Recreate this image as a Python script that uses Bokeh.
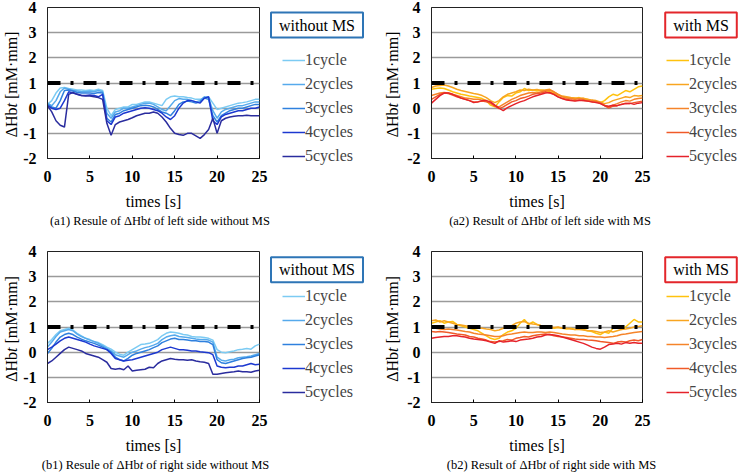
import math
from bokeh.plotting import figure
from bokeh.models import Range1d, FixedTicker, Label, Legend, LegendItem, Span
from bokeh.layouts import column, row
from bokeh.embed import file_html
from bokeh.resources import INLINE

# ---------------- data ----------------
TIME = [i * 0.5 for i in range(51)]  # seconds, 0 .. 25
CYCLES = ["1cycle", "2cycles", "3cycles", "4cycles", "5cycles"]
THRESHOLD = 1.0

BLUES = ["#7ccbf3", "#56aaec", "#2f80de", "#1c38d0", "#2a2c9e"]
ORANGES = ["#ffc20e", "#f8a520", "#f5842a", "#f05a28", "#e5222a"]

# (a1) left side without MS
A1_1 = [0.15, 0.3, 0.6, 0.8, 0.82, 0.78, 0.75, 0.72, 0.72, 0.7, 0.72, 0.7, 0.75, 0.7, 0.0, -0.3, -0.05, 0.0, 0.05, 0.05,
        0.15, 0.15, 0.2, 0.25, 0.25, 0.2, 0.15, 0.1, 0.35, 0.45, 0.48, 0.45, 0.45, 0.42, 0.4, 0.35, 0.35, 0.42, 0.45, 0.2,
        -0.05, 0.0, 0.05, 0.1, 0.15, 0.2, 0.22, 0.25, 0.3, 0.35, 0.35]
A1_2 = [0.2, 0.1, 0.3, 0.65, 0.8, 0.75, 0.7, 0.68, 0.65, 0.65, 0.67, 0.65, 0.7, 0.65, -0.2, -0.4, -0.15, -0.1, 0.0, 0.0,
        0.05, 0.1, 0.15, 0.2, 0.2, 0.15, 0.05, -0.05, -0.1, 0.1, 0.3, 0.38, 0.35, 0.35, 0.3, 0.25, 0.3, 0.45, 0.4, -0.1,
        -0.4, -0.15, -0.05, 0.0, 0.05, 0.1, 0.1, 0.15, 0.2, 0.25, 0.25]
A1_3 = [0.15, 0.05, 0.0, 0.3, 0.7, 0.72, 0.68, 0.62, 0.6, 0.6, 0.6, 0.58, 0.62, 0.6, -0.4, -0.55, -0.25, -0.2, -0.1, -0.05,
        0.0, 0.05, 0.1, 0.12, 0.1, 0.05, -0.05, -0.15, -0.2, -0.3, -0.1, 0.15, 0.25, 0.28, 0.25, 0.2, 0.25, 0.4, 0.35, -0.3,
        -0.55, -0.3, -0.2, -0.1, -0.05, 0.0, 0.0, 0.05, 0.1, 0.15, 0.15]
A1_4 = [0.1, 0.0, -0.05, 0.0, 0.3, 0.65, 0.6, 0.55, 0.5, 0.5, 0.52, 0.5, 0.45, 0.55, -0.5, -0.65, -0.35, -0.3, -0.2, -0.15,
        -0.1, -0.05, 0.0, 0.02, 0.0, -0.05, -0.1, -0.2, -0.35, -0.45, -0.3, 0.0, 0.2, 0.3, 0.3, 0.25, 0.2, 0.4, 0.45, -0.5,
        -0.65, -0.35, -0.25, -0.2, -0.15, -0.1, -0.1, -0.05, 0.0, 0.0, 0.05]
A1_5 = [0.1, -0.15, -0.5, -0.68, -0.75, 0.55, 0.62, 0.55, 0.5, 0.48, 0.48, 0.45, 0.42, 0.35, -0.6, -1.08, -0.65, -0.55, -0.5, -0.45,
        -0.38, -0.3, -0.25, -0.2, -0.2, -0.15, -0.2, -0.35, -0.55, -0.8, -1.0, -1.05, -1.08, -1.0, -1.0, -1.1, -1.2, -1.05, -0.85, -0.4,
        -1.0, -0.5, -0.4, -0.35, -0.32, -0.3, -0.3, -0.28, -0.3, -0.3, -0.3]

# (a2) left side with MS
A2_1 = [0.75, 0.78, 0.8, 0.78, 0.72, 0.65, 0.6, 0.55, 0.52, 0.48, 0.45, 0.42, 0.38, 0.3, 0.12, 0.05, 0.25, 0.42, 0.5, 0.48,
        0.6, 0.65, 0.78, 0.7, 0.72, 0.68, 0.72, 0.7, 0.65, 0.6, 0.52, 0.45, 0.42, 0.4, 0.38, 0.42, 0.36, 0.35, 0.3, 0.28,
        0.22, 0.3, 0.45, 0.55, 0.5, 0.6, 0.7, 0.65, 0.75, 0.85, 0.88]
A2_2 = [0.82, 0.88, 0.9, 0.92, 0.88, 0.82, 0.75, 0.7, 0.66, 0.62, 0.58, 0.55, 0.5, 0.42, 0.3, 0.22, 0.3, 0.45, 0.55, 0.6,
        0.65, 0.72, 0.7, 0.75, 0.72, 0.74, 0.7, 0.72, 0.75, 0.65, 0.55, 0.48, 0.45, 0.42, 0.4, 0.38, 0.4, 0.35, 0.32, 0.3,
        0.25, 0.18, 0.22, 0.3, 0.35, 0.4, 0.45, 0.42, 0.5, 0.48, 0.5]
A2_3 = [0.5, 0.55, 0.6, 0.62, 0.6, 0.55, 0.5, 0.45, 0.4, 0.38, 0.35, 0.35, 0.32, 0.28, 0.2, 0.1, 0.05, 0.15, 0.25, 0.35,
        0.42, 0.5, 0.55, 0.6, 0.62, 0.6, 0.65, 0.7, 0.72, 0.65, 0.55, 0.45, 0.4, 0.38, 0.35, 0.38, 0.35, 0.3, 0.3, 0.28,
        0.22, 0.12, 0.05, 0.12, 0.18, 0.25, 0.3, 0.28, 0.35, 0.38, 0.4]
A2_4 = [0.35, 0.45, 0.55, 0.6, 0.58, 0.52, 0.45, 0.4, 0.35, 0.3, 0.25, 0.25, 0.28, 0.25, 0.2, 0.08, -0.02, 0.05, 0.15, 0.25,
        0.3, 0.38, 0.42, 0.48, 0.55, 0.58, 0.6, 0.65, 0.6, 0.55, 0.45, 0.38, 0.35, 0.32, 0.3, 0.32, 0.3, 0.28, 0.25, 0.25,
        0.2, 0.1, 0.0, 0.08, 0.1, 0.15, 0.2, 0.18, 0.22, 0.25, 0.28]
A2_5 = [0.2, 0.35, 0.5, 0.6, 0.6, 0.55, 0.48, 0.4, 0.35, 0.3, 0.22, 0.25, 0.3, 0.3, 0.25, 0.12, 0.0, -0.1, 0.02, 0.1,
        0.18, 0.25, 0.3, 0.38, 0.45, 0.5, 0.55, 0.6, 0.62, 0.55, 0.45, 0.38, 0.32, 0.3, 0.28, 0.3, 0.3, 0.28, 0.25, 0.22,
        0.18, 0.1, 0.08, 0.12, 0.1, 0.15, 0.18, 0.2, 0.15, 0.2, 0.22]

# (b1) right side without MS
B1_1 = [0.35, 0.5, 0.7, 0.85, 0.9, 0.95, 0.88, 0.75, 0.65, 0.55, 0.5, 0.42, 0.38, 0.3, 0.2, 0.12, 0.0, -0.08, -0.12, 0.0,
        0.1, 0.2, 0.3, 0.32, 0.35, 0.42, 0.5, 0.65, 0.75, 0.8, 0.78, 0.75, 0.7, 0.68, 0.62, 0.6, 0.6, 0.58, 0.55, 0.48,
        0.1, 0.0, -0.02, 0.02, 0.05, 0.1, 0.12, 0.15, 0.12, 0.25, 0.32]
B1_2 = [0.2, 0.4, 0.62, 0.8, 0.85, 0.9, 0.85, 0.72, 0.62, 0.55, 0.48, 0.42, 0.35, 0.25, 0.15, 0.05, -0.1, -0.15, -0.2, -0.1,
        0.0, 0.05, 0.12, 0.18, 0.22, 0.28, 0.35, 0.5, 0.6, 0.65, 0.68, 0.62, 0.6, 0.58, 0.55, 0.52, 0.5, 0.5, 0.48, 0.4,
        -0.2, -0.32, -0.35, -0.3, -0.28, -0.22, -0.2, -0.18, -0.15, -0.1, -0.05]
B1_3 = [-0.05, 0.15, 0.4, 0.6, 0.7, 0.75, 0.7, 0.6, 0.52, 0.45, 0.4, 0.35, 0.28, 0.2, 0.1, 0.0, -0.2, -0.3, -0.35, -0.25,
        -0.12, -0.05, 0.0, 0.05, 0.1, 0.18, 0.25, 0.38, 0.45, 0.52, 0.55, 0.5, 0.5, 0.48, 0.45, 0.45, 0.42, 0.42, 0.4, 0.3,
        -0.3, -0.42, -0.45, -0.4, -0.35, -0.3, -0.25, -0.22, -0.2, -0.15, -0.1]
B1_4 = [0.1, 0.2, 0.32, 0.45, 0.55, 0.6, 0.55, 0.5, 0.45, 0.4, 0.32, 0.25, 0.2, 0.15, 0.1, -0.05, -0.25, -0.3, -0.35, -0.32,
        -0.3, -0.25, -0.2, -0.15, -0.1, -0.05, 0.0, 0.1, 0.15, 0.2, 0.15, 0.1, 0.1, 0.08, 0.05, 0.05, 0.02, 0.0, -0.02, -0.1,
        -0.55, -0.6, -0.62, -0.6, -0.6, -0.55, -0.55, -0.5, -0.45, -0.5, -0.48]
B1_5 = [-0.45, -0.35, -0.2, -0.05, 0.1, 0.2, 0.15, 0.1, 0.05, -0.05, -0.1, -0.15, -0.2, -0.3, -0.4, -0.65, -0.68, -0.65, -0.7, -0.55,
        -0.75, -0.72, -0.7, -0.68, -0.6, -0.62, -0.45, -0.35, -0.3, -0.25, -0.28, -0.3, -0.3, -0.32, -0.3, -0.35, -0.38, -0.4, -0.45, -0.88,
        -0.88, -0.85, -0.82, -0.8, -0.78, -0.75, -0.78, -0.78, -0.8, -0.75, -0.72]

# (b2) right side with MS
B2_1 = [1.15, 1.2, 1.25, 1.15, 1.2, 1.22, 1.1, 1.05, 1.0, 0.95, 0.9, 0.85, 0.75, 0.65, 0.55, 0.5, 0.55, 0.7, 0.8, 0.85,
        0.95, 1.15, 1.3, 1.1, 1.2, 1.1, 1.05, 1.0, 1.02, 0.95, 0.98, 0.95, 0.92, 0.95, 0.9, 0.95, 0.9, 0.85, 0.82, 0.75,
        0.7, 0.8, 0.75, 0.95, 1.05, 0.9, 1.0, 1.15, 1.3, 1.2, 1.2]
B2_2 = [1.25, 1.28, 1.2, 1.25, 1.2, 1.15, 1.1, 1.08, 1.05, 1.02, 1.0, 0.98, 0.95, 0.92, 0.9, 0.85, 0.88, 0.95, 1.0, 1.05,
        1.15, 1.2, 1.22, 1.15, 1.12, 1.1, 1.05, 1.0, 1.0, 0.98, 1.0, 0.95, 0.95, 0.92, 0.9, 0.9, 0.88, 0.85, 0.85, 0.82,
        0.78, 0.8, 0.85, 0.8, 0.85, 0.9, 0.92, 0.95, 1.0, 1.02, 1.05]
B2_3 = [0.95, 0.95, 0.92, 0.9, 0.92, 0.9, 0.88, 0.85, 0.82, 0.8, 0.75, 0.72, 0.7, 0.68, 0.65, 0.62, 0.62, 0.65, 0.7, 0.72,
        0.75, 0.78, 0.8, 0.78, 0.78, 0.8, 0.8, 0.78, 0.8, 0.78, 0.75, 0.72, 0.7, 0.68, 0.68, 0.65, 0.65, 0.62, 0.62, 0.6,
        0.6, 0.58, 0.6, 0.62, 0.65, 0.7, 0.72, 0.75, 0.78, 0.8, 0.82]
B2_4 = [0.82, 0.8, 0.82, 0.8, 0.78, 0.75, 0.72, 0.7, 0.68, 0.62, 0.6, 0.55, 0.52, 0.48, 0.42, 0.4, 0.42, 0.45, 0.5, 0.48,
        0.55, 0.58, 0.62, 0.6, 0.65, 0.68, 0.7, 0.72, 0.7, 0.65, 0.62, 0.6, 0.58, 0.55, 0.52, 0.5, 0.5, 0.48, 0.47, 0.45,
        0.42, 0.4, 0.38, 0.35, 0.4, 0.42, 0.4, 0.45, 0.48, 0.45, 0.5]
B2_5 = [0.55, 0.58, 0.6, 0.62, 0.62, 0.65, 0.65, 0.62, 0.6, 0.55, 0.52, 0.5, 0.48, 0.45, 0.4, 0.35, 0.45, 0.4, 0.42, 0.45,
        0.42, 0.48, 0.5, 0.52, 0.55, 0.6, 0.62, 0.68, 0.7, 0.68, 0.65, 0.6, 0.55, 0.5, 0.45, 0.4, 0.35, 0.28, 0.2, 0.15,
        0.12, 0.2, 0.3, 0.32, 0.35, 0.32, 0.38, 0.35, 0.38, 0.35, 0.35]

X_TICKS = [0, 5, 10, 15, 20, 25]
Y_TICKS = [-2, -1, 0, 1, 2, 3, 4]

FONT = "Liberation Serif"
FRAME_W = 212
MAIN_RIGHT = 10


def blank(width, height):
    """A figure whose frame is the whole canvas, used to hold text outside the plot frame."""
    f = figure(width=width, height=height, x_range=Range1d(0, 1), y_range=Range1d(0, 1),
               x_axis_location=None, y_axis_location=None,
               output_backend="svg", toolbar_location=None, frame_align=False,
               min_border=0, min_border_left=0, min_border_right=0,
               min_border_top=0, min_border_bottom=0)
    f.outline_line_color = None
    f.grid.visible = False
    f.background_fill_color = "white"
    f.border_fill_color = "white"
    return f


def make_panel(series, colors, box_text, box_color, caption, panel_w, ylab_w, ylab_x,
               top_border, frame_h, main_h, cap_h, cap_up, cap_t_x,
               legend_x, legend_y, box_x, box_y):
    main_left = 0  # computed below
    main_w = panel_w - ylab_w  # provisional
    # ---- main plot ----
    main_left = 26 if ylab_w > 20 else 27
    main_w = main_left + FRAME_W + MAIN_RIGHT
    p = figure(width=main_w, height=main_h, x_range=Range1d(0, 25), y_range=Range1d(-2, 4),
               output_backend="svg", toolbar_location=None,
               min_border_left=main_left, min_border_right=MAIN_RIGHT,
               min_border_top=top_border, min_border_bottom=main_h - top_border - frame_h)
    p.background_fill_color = "white"
    p.border_fill_color = "white"
    p.outline_line_color = "#222222"
    p.outline_line_width = 1
    p.xgrid.visible = False
    p.ygrid.grid_line_color = "#9a9a9a"
    p.ygrid.grid_line_width = 1.5
    p.xaxis.ticker = FixedTicker(ticks=X_TICKS)
    p.yaxis.ticker = FixedTicker(ticks=Y_TICKS)
    p.yaxis.major_label_overrides = {t: str(t) for t in Y_TICKS}
    for ax in (p.xaxis, p.yaxis):
        ax.axis_line_color = "#222222"
        ax.major_label_text_font = FONT
        ax.major_label_text_font_size = "16px"
        ax.major_label_text_font_style = "bold"
        ax.major_label_text_color = "black"
        ax.minor_tick_line_color = None
    p.xaxis.major_tick_in = 3
    p.xaxis.major_tick_out = 0
    p.xaxis.major_label_standoff = 12
    p.yaxis.major_tick_in = 0
    p.yaxis.major_tick_out = 0
    p.yaxis.major_label_standoff = 11
    p.xaxis.axis_label = "times [s]"
    p.xaxis.axis_label_text_font = FONT
    p.xaxis.axis_label_text_font_size = "16px"
    p.xaxis.axis_label_text_font_style = "normal"
    p.xaxis.axis_label_text_color = "black"
    p.xaxis.axis_label_standoff = 8

    for ys, c in zip(series, colors):
        p.line(TIME, ys, line_color=c, line_width=1.5)
    p.add_layout(Span(location=THRESHOLD, dimension="width", line_color="black",
                      line_width=4, line_dash="13 10 3 10"))

    # ---- y-axis label: ΔHb + italic t + [mM·mm] ----
    yl = blank(ylab_w, main_h)
    ty = (main_h - top_border - frame_h / 2) - 23
    common = dict(x=ylab_x, x_units="screen", y_units="screen", angle=math.pi / 2,
                  text_font=FONT, text_font_size="16px", text_baseline="middle", text_color="black")
    yl.add_layout(Label(y=ty, text="\u0394Hb", text_align="right", **common))
    yl.add_layout(Label(y=ty, text="t", text_align="left", text_font_style="italic", **common))
    yl.add_layout(Label(y=ty + 8.4, text="[mM\u00b7mm]", text_align="left", **common))

    # ---- legend column ----
    leg_w = panel_w - ylab_w - main_w
    lf = blank(leg_w, main_h)
    rs = [lf.line(TIME, ys, line_color=c, line_width=1.5, visible=False) for ys, c in zip(series, colors)]
    lf.add_layout(Legend(items=[LegendItem(label=n, renderers=[r]) for n, r in zip(CYCLES, rs)],
                         location=(legend_x, legend_y), padding=0, margin=0, spacing=4,
                         glyph_width=23, glyph_height=20, label_height=20, label_standoff=0,
                         label_text_font=FONT, label_text_font_size="16px",
                         border_line_color=None, background_fill_alpha=0))
    lf.add_layout(Label(x=box_x, y=box_y, x_units="screen", y_units="screen", text=box_text,
                        text_font=FONT, text_font_size="16px", text_align="center",
                        text_baseline="middle", text_color="black",
                        border_line_color=box_color, border_line_width=2,
                        background_fill_color="white", padding=(8, 4)))

    # ---- caption: prefix + italic t + rest ----
    cf = blank(panel_w, cap_h)
    pre, rest = caption
    cc = dict(y=cap_up, x_units="screen", y_units="screen", text_font=FONT,
              text_font_size="12.5px", text_baseline="middle", text_color="black")
    cf.add_layout(Label(x=cap_t_x, text=pre, text_align="right", **cc))
    cf.add_layout(Label(x=cap_t_x, text="t", text_align="left", text_font_style="italic", **cc))
    cf.add_layout(Label(x=cap_t_x + 6.6, text=rest, text_align="left", **cc))

    return column(row(yl, p, lf), cf)


TOP = dict(top_border=7, frame_h=154, main_h=212, cap_h=24, cap_up=16, box_y=187.5, legend_y=46)
BOT = dict(top_border=15, frame_h=155, main_h=220, cap_h=16, cap_up=8, box_y=186.7, legend_y=54)

a1 = make_panel([A1_1, A1_2, A1_3, A1_4, A1_5], BLUES, "without MS", "#2e75b6",
                ("(a1) Resule of \u0394Hb", "of left side without MS"),
                panel_w=370, ylab_w=20, ylab_x=10.8, cap_t_x=146.8,
                legend_x=13, box_x=47.5, **TOP)
a2 = make_panel([A2_1, A2_2, A2_3, A2_4, A2_5], ORANGES, "with MS", "#e3262b",
                ("(a2) Result of \u0394Hb", "of left side with MS"),
                panel_w=369, ylab_w=34, ylab_x=22, cap_t_x=173.8,
                legend_x=14, box_x=48.5, **TOP)
b1 = make_panel([B1_1, B1_2, B1_3, B1_4, B1_5], BLUES, "without MS", "#2e75b6",
                ("(b1) Resule of \u0394Hb", "of right side without MS"),
                panel_w=370, ylab_w=20, ylab_x=10.8, cap_t_x=139.2,
                legend_x=13, box_x=47.5, **BOT)
b2 = make_panel([B2_1, B2_2, B2_3, B2_4, B2_5], ORANGES, "with MS", "#e3262b",
                ("(b2) Result of \u0394Hb", "of right side with MS"),
                panel_w=369, ylab_w=34, ylab_x=22, cap_t_x=172.2,
                legend_x=14, box_x=48.5, **BOT)

layout = column(row(a1, a2), row(b1, b2))
open("out.html", "w").write(file_html(layout, INLINE))
